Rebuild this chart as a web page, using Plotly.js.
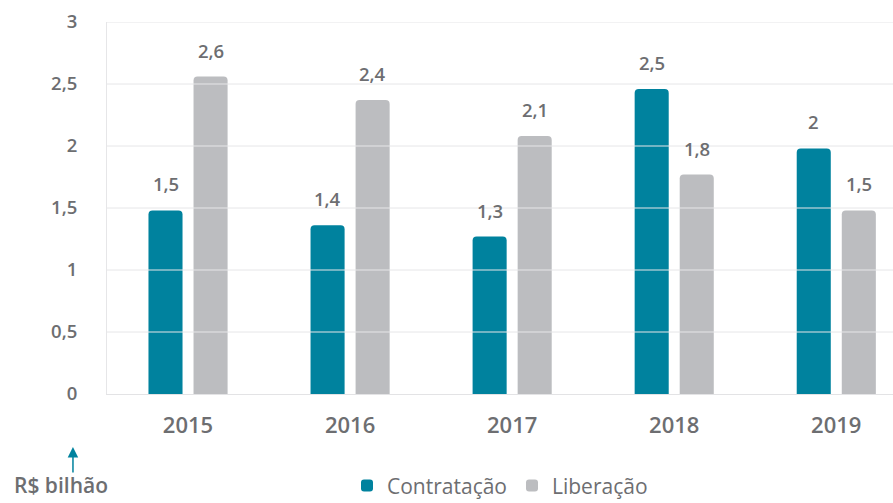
<!DOCTYPE html>
<html>
<head>
<meta charset="utf-8">
<script src="https://cdn.plot.ly/plotly-3.0.1.min.js"></script>
<style>html,body{margin:0;padding:0;background:#fff;}#chart{width:893px;height:503px;}</style>
</head>
<body>
<div id="chart"></div>
<script>
const years = ['2015', '2016', '2017', '2018', '2019'];
const contratacao = [1.48, 1.36, 1.27, 2.46, 1.98];
const liberacao = [2.56, 2.37, 2.08, 1.77, 1.48];
const contratacaoLabels = ['1,5', '1,4', '1,3', '2,5', '2'];
const liberacaoLabels = ['2,6', '2,4', '2,1', '1,8', '1,5'];
const yTicks = [0, 0.5, 1, 1.5, 2, 2.5, 3];
const yTickText = ['0', '0,5', '1', '1,5', '2', '2,5', '3'];
const seriesNames = ['Contratação', 'Liberação'];
const unitLabel = 'R$ bilhão';

const TEAL = '#00829e';
const GRAY = '#bcbdc0';
const TXT = '#6d6e71';
const FONT = 'Open Sans, Lato, sans-serif';

const traces = [
  {type: 'bar', name: seriesNames[0], x: years, y: contratacao, marker: {color: TEAL}, hoverinfo: 'none'},
  {type: 'bar', name: seriesNames[1], x: years, y: liberacao, marker: {color: GRAY}, hoverinfo: 'none'}
];

const annotations = [];
years.forEach((yr, i) => {
  annotations.push({x: i, y: contratacao[i], xref: 'x', yref: 'y', text: contratacaoLabels[i], showarrow: false,
    xshift: -22.5, yshift: 12, yanchor: 'bottom', xanchor: 'center', font: {family: FONT, size: 18.5, color: TXT, weight: 600}});
  annotations.push({x: i, y: liberacao[i], xref: 'x', yref: 'y', text: liberacaoLabels[i], showarrow: false,
    xshift: 22.5, yshift: 12, yanchor: 'bottom', xanchor: 'center', font: {family: FONT, size: 18.5, color: TXT, weight: 600}});
});
annotations.push({xref: 'paper', yref: 'paper', x: -0.058, y: -0.245, text: unitLabel, showarrow: false,
  xanchor: 'center', yanchor: 'middle', font: {family: FONT, size: 21, color: TXT, weight: 600}});
annotations.push({xref: 'paper', yref: 'paper', x: -0.0433, y: -0.1425, text: '', showarrow: true,
  ax: 0, ay: 27, arrowhead: 2, arrowsize: 1.4, arrowwidth: 1.5, arrowcolor: TEAL});

const shapes = yTicks.filter(v => v > 0).map(v => ({type: 'line', xref: 'paper', yref: 'y', x0: 0, x1: 1, y0: v, y1: v,
  layer: 'above', line: {color: '#e6e6e8', width: 1}}));

const layout = {
  width: 893, height: 503,
  margin: {l: 107, r: 0, t: 22, b: 109, pad: 0, autoexpand: false},
  paper_bgcolor: '#fff', plot_bgcolor: '#fff',
  separators: ',.',
  barmode: 'group', bargap: 0.444, bargroupgap: 0.244, barcornerradius: 4,
  font: {family: FONT, color: TXT},
  showlegend: true,
  legend: {orientation: 'h', x: 0.5, xanchor: 'center', y: -0.192, yanchor: 'top',
    font: {family: FONT, size: 21, color: TXT, weight: 500}, itemwidth: 30, traceorder: 'normal'},
  xaxis: {type: 'category', range: [-0.5, 4.35], showgrid: false, zeroline: false,
    showline: true, linecolor: '#e3e3e5', linewidth: 1, ticks: '', ticklabelstandoff: 12,
    tickfont: {family: FONT, size: 22, color: TXT, weight: 600}, fixedrange: true},
  yaxis: {range: [0, 3], tickvals: yTicks, ticktext: yTickText, showgrid: false, zeroline: false,
    showline: true, linecolor: '#e6e6e8', linewidth: 1, ticks: '', ticklabelstandoff: 25,
    tickfont: {family: FONT, size: 18.5, color: TXT, weight: 600}, fixedrange: true},
  annotations: annotations,
  shapes: shapes
};

Plotly.newPlot('chart', traces, layout, {displayModeBar: false, staticPlot: true});
</script>
</body>
</html>
